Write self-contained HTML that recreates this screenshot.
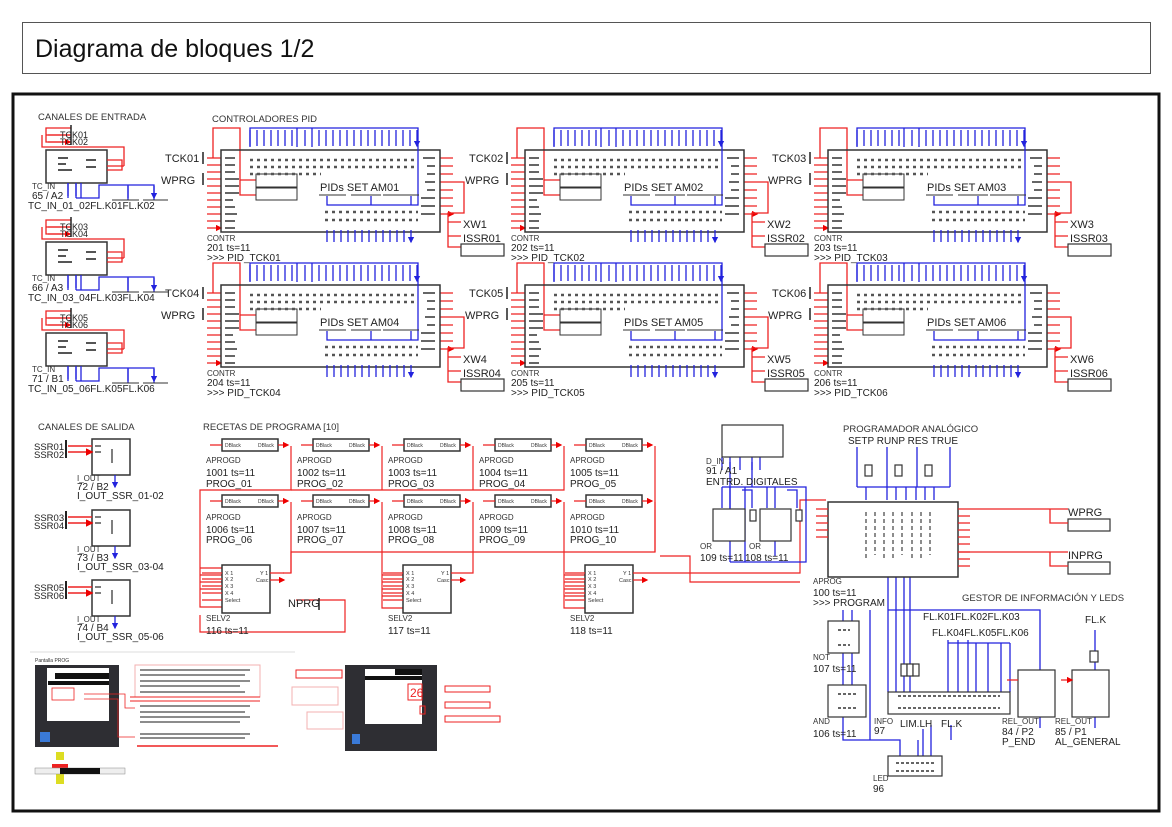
<!DOCTYPE html>
<html><head><meta charset="utf-8"><style>
html,body{margin:0;padding:0;background:#fff;}
svg{display:block;font-family:"Liberation Sans",Arial,sans-serif;}
.t{font-size:10px;fill:#222;}
.s{font-size:8px;fill:#333;}
.h{font-size:9.5px;fill:#333;}
.b{font-size:11px;fill:#222;}
</style></head><body>
<svg width="1172" height="827" viewBox="0 0 1172 827" xmlns="http://www.w3.org/2000/svg">
<defs>
<marker id="ar" markerWidth="5" markerHeight="5" refX="4" refY="2.5" orient="auto"><path d="M0,0L5,2.5L0,5z" fill="#e00"/></marker>
<marker id="ab" markerWidth="5" markerHeight="5" refX="4" refY="2.5" orient="auto"><path d="M0,0L5,2.5L0,5z" fill="#22d"/></marker>
<symbol id="pid" overflow="visible">
 <g fill="none" stroke="#e22" stroke-width="1.3">
  <path d="M-8,8V-22H19V30H35M19,30V45H35"/>
  <path d="M-14,8H0M-14,15H0M-14,22H0M-14,29H0M-14,36H0M-14,43H0M-14,50H0M-14,57H0M-14,64H0M-14,71H0M-14,78H0" marker-end="url(#ar)"/>
  <path d="M219,8H232M219,16H232M219,24H232M219,32H232M219,40H232M219,48H232M219,56H232M219,64H232" marker-end="url(#ar)"/>
  <path d="M232,32H243V63H227V97H240M227,72H240M227,86H240"/>
 </g>
 <path d="M-18,2V14M-18,23V35" stroke="#222" stroke-width="1.5"/>
 <rect x="0" y="0" width="219" height="82" fill="none" stroke="#333" stroke-width="1.5"/>
 <rect x="35" y="24" width="41" height="13" fill="none" stroke="#333"/>
 <rect x="35" y="38" width="41" height="12" fill="none" stroke="#333"/>
 <rect x="240" y="94" width="43" height="12" fill="none" stroke="#333" stroke-width="1.2"/>
 <g fill="none" stroke="#22d" stroke-width="1.3">
  <path d="M29,-3V-22H197V55H106V46M150,55V46M190,55V46M76,-22V-3M91,-22V-3"/>
  <path d="M29,-20V-4M36,-20V-4M43,-20V-4M50,-20V-4M57,-20V-4M64,-20V-4M71,-20V-4M84,-20V-4M98,-20V-4M105,-20V-4M112,-20V-4M119,-20V-4M126,-20V-4M133,-20V-4M140,-20V-4M147,-20V-4M154,-20V-4M161,-20V-4M168,-20V-4M175,-20V-4M182,-20V-4M189,-20V-4M196,-20V-4" marker-end="url(#ab)"/>
  <path d="M106,80V92M113,80V92M120,80V92M127,80V92M134,80V92M141,80V92M148,80V92M155,80V92M162,80V92M169,80V92M176,80V92M183,80V92M190,80V92" marker-end="url(#ab)"/>
 </g>
 <path d="M29,10H197M29,17H197M29,24H100" stroke="#555" stroke-width="2.5" stroke-dasharray="3 4"/>
 <path d="M104,62H197M104,70H197" stroke="#555" stroke-width="2.5" stroke-dasharray="3 4"/>
 <path d="M4,8H14M4,15H14M4,22H14M4,29H18M4,36H18M4,43H18M4,50H12M4,57H14M4,64H16M4,71H14M4,78H14" stroke="#666" stroke-width="2"/>
 <path d="M202,8H214M206,16H214M206,24H214M204,32H214M206,40H214M200,48H214M200,56H214M200,64H214" stroke="#666" stroke-width="2"/>
 <path d="M98,45H125M130,45H160M162,45H198" stroke="#333"/>
</symbol>
<symbol id="tcin" overflow="visible">
 <rect x="0" y="0" width="61" height="33" fill="none" stroke="#333" stroke-width="1.5"/>
 <path d="M25,-15H0V-8H25M0,-15V-22H25" fill="none" stroke="#e22" stroke-width="1.3"/>
 <path d="M2,-15H24M2,-8H24" stroke="#e22" stroke-width="1.3" marker-end="url(#ar)"/>
 <path d="M0,-15V-22" stroke="#e22"/>
 <path d="M25,-25V-5" stroke="#222" stroke-width="1.5"/>
 <path d="M78,16V-3H-4V-15M61,10H76V20H61M61,16H78" fill="none" stroke="#e22" stroke-width="1.3"/>
 <path d="M12,8h10M12,14h8M12,20h14M40,10h10M40,17h10" stroke="#555" stroke-width="2"/>
 <g fill="none" stroke="#22d" stroke-width="1.3">
  <path d="M22,33V48M30,33V48M35,33V48M30,48H53V35H108V50M82,35V50" />
  <path d="M22,33V46M30,33V46M82,36V48M108,36V48" marker-end="url(#ab)"/>
 </g>
 <path d="M66,50H93M97,50H122" stroke="#333"/>
</symbol>
<symbol id="iout" overflow="visible">
 <rect x="0" y="0" width="38" height="36" fill="none" stroke="#333" stroke-width="1.5"/>
 <path d="M-24,7H0M-24,13H0" stroke="#e22" stroke-width="1.5" marker-end="url(#ar)"/>
 <path d="M-26,1V19" stroke="#222" stroke-width="2"/>
 <path d="M3,7h6M3,13h6M20,10v14" stroke="#555" stroke-width="1.5"/>
 <path d="M23,36V48" stroke="#22d" stroke-width="1.3" marker-end="url(#ab)"/>
</symbol>
<symbol id="apr" overflow="visible">
 <rect x="0" y="0" width="56" height="12" fill="none" stroke="#333" stroke-width="1.5"/>
 <path d="M-12,6H0M56,6H66" stroke="#e22" stroke-width="1.3" marker-end="url(#ar)"/>
 <text x="3" y="8" font-size="5" fill="#333">DBlack</text><text x="36" y="8" font-size="5" fill="#333">DBlack</text>
</symbol>
<symbol id="sel" overflow="visible">
 <rect x="0" y="0" width="48" height="48" fill="none" stroke="#333" stroke-width="1.5"/>
 <path d="M-20,8H0M-20,14H0M-20,21H0M-20,28H0M-20,35H0M48,8H62M48,15H62" stroke="#e22" stroke-width="1.3" marker-end="url(#ar)"/>
 <text x="3" y="10" font-size="5.5" fill="#333">X 1</text><text x="3" y="16" font-size="5.5" fill="#333">X 2</text><text x="3" y="23" font-size="5.5" fill="#333">X 3</text><text x="3" y="30" font-size="5.5" fill="#333">X 4</text><text x="3" y="37" font-size="5.5" fill="#333">Select</text>
 <text x="38" y="10" font-size="5.5" fill="#333">Y 1</text><text x="34" y="17" font-size="5.5" fill="#333">Casc</text>
</symbol>
</defs>

<rect x="22.5" y="22.5" width="1128" height="51" fill="#fff" stroke="#555" stroke-width="1"/>
<text x="35" y="57" font-size="25" fill="#111" font-family="Liberation Sans,sans-serif">Diagrama de bloques 1/2</text>
<rect x="13" y="94" width="1146" height="717" fill="none" stroke="#111" stroke-width="3"/>

<text x="38" y="120" class="h">CANALES DE ENTRADA</text>
<text x="212" y="122" class="h">CONTROLADORES PID</text>
<text x="38" y="430" class="h">CANALES DE SALIDA</text>
<text x="203" y="430" class="h">RECETAS DE PROGRAMA [10]</text>
<text x="843" y="432" class="h">PROGRAMADOR ANALÓGICO</text>
<text x="962" y="601" class="h">GESTOR DE INFORMACIÓN Y LEDS</text>

<use href="#pid" x="221" y="150"/><use href="#pid" x="525" y="150"/><use href="#pid" x="828" y="150"/>
<use href="#pid" x="221" y="285"/><use href="#pid" x="525" y="285"/><use href="#pid" x="828" y="285"/>
<g class="b">
<text x="165" y="162">TCK01</text><text x="161" y="184">WPRG</text>
<text x="469" y="162">TCK02</text><text x="465" y="184">WPRG</text>
<text x="772" y="162">TCK03</text><text x="768" y="184">WPRG</text>
<text x="165" y="297">TCK04</text><text x="161" y="319">WPRG</text>
<text x="469" y="297">TCK05</text><text x="465" y="319">WPRG</text>
<text x="772" y="297">TCK06</text><text x="768" y="319">WPRG</text>
<text x="320" y="191">PIDs  SET  AM01</text><text x="624" y="191">PIDs  SET  AM02</text><text x="927" y="191">PIDs  SET  AM03</text>
<text x="320" y="326">PIDs  SET  AM04</text><text x="624" y="326">PIDs  SET  AM05</text><text x="927" y="326">PIDs  SET  AM06</text>
<text x="463" y="228">XW1</text><text x="463" y="242">ISSR01</text>
<text x="767" y="228">XW2</text><text x="767" y="242">ISSR02</text>
<text x="1070" y="228">XW3</text><text x="1070" y="242">ISSR03</text>
<text x="463" y="363">XW4</text><text x="463" y="377">ISSR04</text>
<text x="767" y="363">XW5</text><text x="767" y="377">ISSR05</text>
<text x="1070" y="363">XW6</text><text x="1070" y="377">ISSR06</text>
</g>
<g class="t">
<text x="207" y="241" class="s">CONTR</text><text x="207" y="251">201 ts=11</text><text x="207" y="261">&gt;&gt;&gt; PID_TCK01</text>
<text x="511" y="241" class="s">CONTR</text><text x="511" y="251">202 ts=11</text><text x="511" y="261">&gt;&gt;&gt; PID_TCK02</text>
<text x="814" y="241" class="s">CONTR</text><text x="814" y="251">203 ts=11</text><text x="814" y="261">&gt;&gt;&gt; PID_TCK03</text>
<text x="207" y="376" class="s">CONTR</text><text x="207" y="386">204 ts=11</text><text x="207" y="396">&gt;&gt;&gt; PID_TCK04</text>
<text x="511" y="376" class="s">CONTR</text><text x="511" y="386">205 ts=11</text><text x="511" y="396">&gt;&gt;&gt; PID_TCK05</text>
<text x="814" y="376" class="s">CONTR</text><text x="814" y="386">206 ts=11</text><text x="814" y="396">&gt;&gt;&gt; PID_TCK06</text>
</g>

<use href="#tcin" x="46" y="150"/><use href="#tcin" x="46" y="242"/><use href="#tcin" x="46" y="333"/>
<g class="t">
<text x="60" y="138" font-size="9">TCK01</text><text x="60" y="145" font-size="9">TCK02</text>
<text x="60" y="230" font-size="9">TCK03</text><text x="60" y="237" font-size="9">TCK04</text>
<text x="60" y="321" font-size="9">TCK05</text><text x="60" y="328" font-size="9">TCK06</text>
<text x="32" y="189" class="s">TC_IN</text><text x="32" y="199">65 / A2</text><text x="28" y="209">TC_IN_01_02FL.K01FL.K02</text>
<text x="32" y="281" class="s">TC_IN</text><text x="32" y="291">66 / A3</text><text x="28" y="301">TC_IN_03_04FL.K03FL.K04</text>
<text x="32" y="372" class="s">TC_IN</text><text x="32" y="382">71 / B1</text><text x="28" y="392">TC_IN_05_06FL.K05FL.K06</text>
</g>

<use href="#iout" x="92" y="439"/><use href="#iout" x="92" y="510"/><use href="#iout" x="92" y="580"/>
<g class="t">
<text x="34" y="450" font-size="9.5">SSR01</text><text x="34" y="458" font-size="9.5">SSR02</text>
<text x="34" y="521" font-size="9.5">SSR03</text><text x="34" y="529" font-size="9.5">SSR04</text>
<text x="34" y="591" font-size="9.5">SSR05</text><text x="34" y="599" font-size="9.5">SSR06</text>
<text x="77" y="481" class="s">I_OUT</text><text x="77" y="490">72 / B2</text><text x="77" y="499">I_OUT_SSR_01-02</text>
<text x="77" y="552" class="s">I_OUT</text><text x="77" y="561">73 / B3</text><text x="77" y="570">I_OUT_SSR_03-04</text>
<text x="77" y="622" class="s">I_OUT</text><text x="77" y="631">74 / B4</text><text x="77" y="640">I_OUT_SSR_05-06</text>
</g>

<g fill="none" stroke="#e22" stroke-width="1.2">
<path d="M291,446V490H200V607H222M200,568H222M200,575H222M200,582H222M200,589H222"/>
<path d="M382,446V490M473,446V490M564,446V490H291"/>
<path d="M655,446V552H291V573H283"/>
<path d="M291,502V573M382,502V608H403M382,575H403M382,582H403M382,589H403M382,596H403"/>
<path d="M473,502V573H465M564,502V608H585M564,575H585M564,582H585M564,589H585M564,596H585"/>
<path d="M655,502V552"/>
<path d="M200,615V632H345V600H296"/>
<path d="M647,573H800V500H826M660,556H690V582H800"/>
</g>
<g>
<use href="#apr" x="222" y="439"/><use href="#apr" x="313" y="439"/><use href="#apr" x="404" y="439"/><use href="#apr" x="495" y="439"/><use href="#apr" x="586" y="439"/>
<use href="#apr" x="222" y="495"/><use href="#apr" x="313" y="495"/><use href="#apr" x="404" y="495"/><use href="#apr" x="495" y="495"/><use href="#apr" x="586" y="495"/>
<use href="#sel" x="222" y="565"/><use href="#sel" x="403" y="565"/><use href="#sel" x="585" y="565"/>
</g>
<g class="t">
<text x="206" y="463" class="s">APROGD</text><text x="206" y="476">1001 ts=11</text><text x="206" y="487">PROG_01</text>
<text x="297" y="463" class="s">APROGD</text><text x="297" y="476">1002 ts=11</text><text x="297" y="487">PROG_02</text>
<text x="388" y="463" class="s">APROGD</text><text x="388" y="476">1003 ts=11</text><text x="388" y="487">PROG_03</text>
<text x="479" y="463" class="s">APROGD</text><text x="479" y="476">1004 ts=11</text><text x="479" y="487">PROG_04</text>
<text x="570" y="463" class="s">APROGD</text><text x="570" y="476">1005 ts=11</text><text x="570" y="487">PROG_05</text>
<text x="206" y="520" class="s">APROGD</text><text x="206" y="533">1006 ts=11</text><text x="206" y="543">PROG_06</text>
<text x="297" y="520" class="s">APROGD</text><text x="297" y="533">1007 ts=11</text><text x="297" y="543">PROG_07</text>
<text x="388" y="520" class="s">APROGD</text><text x="388" y="533">1008 ts=11</text><text x="388" y="543">PROG_08</text>
<text x="479" y="520" class="s">APROGD</text><text x="479" y="533">1009 ts=11</text><text x="479" y="543">PROG_09</text>
<text x="570" y="520" class="s">APROGD</text><text x="570" y="533">1010 ts=11</text><text x="570" y="543">PROG_10</text>
<text x="206" y="621" class="s">SELV2</text><text x="206" y="634">116 ts=11</text>
<text x="388" y="621" class="s">SELV2</text><text x="388" y="634">117 ts=11</text>
<text x="570" y="621" class="s">SELV2</text><text x="570" y="634">118 ts=11</text>
<text x="288" y="607" class="b">NPRG</text>
</g>
<path d="M319,598V610" stroke="#222" stroke-width="1.5"/>

<g fill="none" stroke="#22d" stroke-width="1.3">
<path d="M722,457V470M730,457V470M740,457V470M752,457V470M760,457V470"/>
<path d="M722,487H806V562H730M722,487V508M730,487V508M745,487V562M742,490H752V508M767,487V508M775,487V508M787,490H797V508M745,562H787"/>
<path d="M730,462V562M752,462V487M730,541V556M775,541V556"/>
<path d="M857,447V487M887,447V487M917,447V487M950,447V487M857,487H950M866,487V500M887,487V500M896,487V500M906,487V500M916,487V500M925,487V500M934,487V500"/>
<path d="M888,577V610H1040V670M888,610V692M896,577V692M904,577V692M910,577V692M843,610V626M852,610V685M843,653V685M843,717V740H900V756M870,610V740M918,740V756M923,729V756M931,725V756M951,725V740"/>
<path d="M948,640V692M958,640V692M968,640V692M976,643V692M988,643V692M1001,643V692M1010,643V692M948,643H1010"/>
<path d="M1095,630V670M1095,717V728M1040,717V728"/>
</g>
<g fill="#fff" stroke="#333" stroke-width="1.2">
<rect x="722" y="425" width="61" height="32"/>
<rect x="713" y="509" width="32" height="32"/><rect x="760" y="509" width="31" height="32"/>
<rect x="750" y="510" width="6" height="11"/><rect x="796" y="510" width="6" height="11"/>
<rect x="865" y="465" width="7" height="11"/><rect x="895" y="465" width="7" height="11"/><rect x="925" y="465" width="7" height="11"/>
<rect x="828" y="502" width="130" height="75" stroke-width="1.5"/>
<rect x="828" y="621" width="31" height="32"/><rect x="828" y="685" width="38" height="32"/>
<rect x="888" y="692" width="122" height="22"/><rect x="888" y="756" width="54" height="20"/>
<rect x="1018" y="670" width="37" height="47"/><rect x="1072" y="670" width="37" height="47"/>
<rect x="1090" y="651" width="8" height="11"/>
<rect x="901" y="664" width="6" height="12"/><rect x="907" y="664" width="6" height="12"/><rect x="913" y="664" width="6" height="12"/>
<rect x="1068" y="519" width="42" height="12"/><rect x="1068" y="562" width="42" height="12"/>
</g>
<g fill="none" stroke="#e22" stroke-width="1.3">
<path d="M958,509H1068M1050,509V523H1068M958,552H1068M1050,552V566H1068"/>
<path d="M958,516H970M958,523H970M958,530H970M958,537H970M958,544H970M958,552H970M958,559H970M958,566H970M816,509H828M816,516H828M816,523H828M816,530H828M816,537H828M1007,680H1018M1061,680H1072" marker-end="url(#ar)"/>
</g>
<path d="M898,696H1000M898,708H1000M896,763H936M896,771H936M838,630h12M838,645h12M838,694h20M838,708h20" stroke="#666" stroke-width="2" stroke-dasharray="3 2"/>
<path d="M866,512V560M875,512V555M884,512V560M893,512V560M902,512V555M912,512V560M921,512V560M930,512V555" stroke="#666" stroke-width="1.5" stroke-dasharray="4 3"/>
<g class="t">
<text x="706" y="464" class="s">D_IN</text><text x="706" y="474">91 / A1</text><text x="706" y="485">ENTRD. DIGITALES</text>
<text x="700" y="549" class="s">OR</text><text x="749" y="549" class="s">OR</text>
<text x="700" y="561">109 ts=11</text><text x="745" y="561">108 ts=11</text>
<text x="848" y="444">SETP RUNP RES TRUE</text>
<text x="813" y="584" class="s">APROG</text><text x="813" y="596">100 ts=11</text><text x="813" y="606">&gt;&gt;&gt; PROGRAM</text>
<text x="1068" y="516" class="b">WPRG</text><text x="1068" y="559" class="b">INPRG</text>
<text x="813" y="660" class="s">NOT</text><text x="813" y="672">107 ts=11</text>
<text x="813" y="724" class="s">AND</text><text x="813" y="737">106 ts=11</text>
<text x="874" y="724" class="s">INFO</text><text x="874" y="734">97</text>
<text x="900" y="727">LIM.LH</text><text x="941" y="727">FL.K</text>
<text x="873" y="781" class="s">LED</text><text x="873" y="792">96</text>
<text x="923" y="620">FL.K01FL.K02FL.K03</text><text x="932" y="636">FL.K04FL.K05FL.K06</text>
<text x="1085" y="623">FL.K</text>
<text x="1002" y="724" class="s">REL_OUT</text><text x="1002" y="735">84 / P2</text><text x="1002" y="745">P_END</text>
<text x="1055" y="724" class="s">REL_OUT</text><text x="1055" y="735">85 / P1</text><text x="1055" y="745">AL_GENERAL</text>
</g>

<line x1="30" y1="652" x2="295" y2="652" stroke="#ddd"/>
<text x="35" y="662" font-size="5" fill="#333">Pantalla PROG</text>
<rect x="35" y="665" width="84" height="82" fill="#2e2e33"/>
<rect x="47" y="668" width="62" height="53" fill="#fff"/>
<rect x="55" y="673" width="54" height="6" fill="#111"/><rect x="48" y="681" width="61" height="4" fill="#111"/>
<rect x="52" y="688" width="22" height="12" fill="none" stroke="#e22" stroke-width="0.8"/>
<rect x="40" y="732" width="10" height="10" fill="#3a7ad8"/>
<rect x="135" y="665" width="125" height="32" fill="#fff" stroke="#f3b0b0"/>
<path d="M140,670H250M140,675H245M140,681H250M140,686H240M140,692H245" stroke="#666" stroke-width="1.5"/>
<path d="M130,697H260M130,701H260" stroke="#e22" stroke-width="1"/>
<path d="M140,706H250M140,712H245M140,717H250M140,722H240" stroke="#666" stroke-width="1.5"/>
<path d="M140,734H250M140,738H245" stroke="#666" stroke-width="1.5"/>
<path d="M137,746H278" stroke="#e22" stroke-width="1.5"/>
<path d="M84,694H125V708H135M84,699H118V737H135" fill="none" stroke="#e22" stroke-width="0.8"/>
<rect x="56" y="752" width="8" height="8" fill="#dd2"/><rect x="56" y="768" width="8" height="8" fill="#dd2"/><rect x="56" y="776" width="8" height="8" fill="#dd2"/>
<rect x="52" y="764" width="16" height="8" fill="#e22"/>
<rect x="35" y="768" width="90" height="6" fill="#eee" stroke="#888" stroke-width="0.5"/>
<rect x="60" y="768" width="40" height="6" fill="#111"/>
<rect x="345" y="665" width="92" height="86" fill="#2e2e33"/>
<rect x="365" y="669" width="57" height="55" fill="#fff"/>
<rect x="395" y="669" width="27" height="6" fill="#111"/><rect x="365" y="676" width="57" height="4" fill="#111"/>
<rect x="408" y="684" width="14" height="16" fill="none" stroke="#e22"/><text x="410" y="697" font-size="12" fill="#e22">26</text>
<rect x="420" y="706" width="5" height="8" fill="none" stroke="#e22"/>
<rect x="352" y="734" width="8" height="10" fill="#3a7ad8"/>
<rect x="296" y="670" width="46" height="8" fill="#fff" stroke="#e22"/>
<rect x="292" y="687" width="46" height="18" fill="#fff" stroke="#f3b0b0"/>
<rect x="307" y="712" width="36" height="17" fill="#fff" stroke="#f3b0b0"/>
<rect x="445" y="686" width="45" height="6" fill="#fff" stroke="#e22"/>
<rect x="445" y="702" width="45" height="6" fill="#fff" stroke="#e22"/>
<rect x="445" y="716" width="55" height="6" fill="#fff" stroke="#e22"/>
</svg>
</body></html>
